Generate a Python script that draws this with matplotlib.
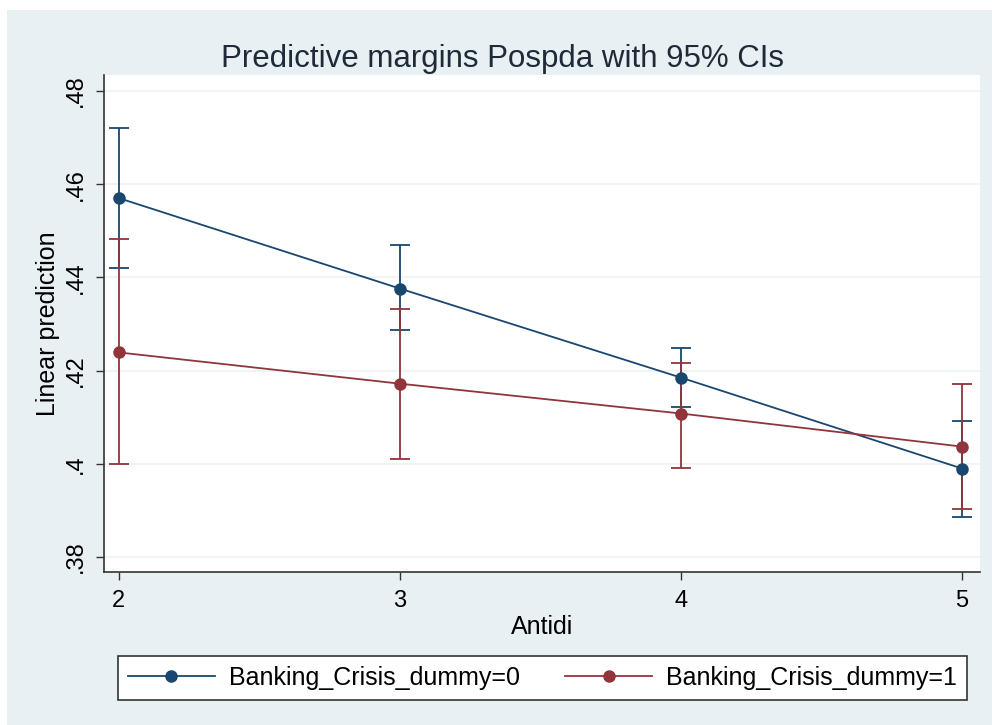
import matplotlib
matplotlib.use("Agg")
import matplotlib.pyplot as plt

plt.rcParams['font.family'] = ['Liberation Sans', 'DejaVu Sans']

antidi = [2, 3, 4, 5]

# Banking_Crisis_dummy=0
margin0 = [0.4570, 0.4376, 0.4185, 0.3990]
lower0 = [0.4420, 0.4288, 0.4121, 0.3886]
upper0 = [0.4721, 0.4469, 0.4249, 0.4093]

# Banking_Crisis_dummy=1
margin1 = [0.4239, 0.4172, 0.4108, 0.4037]
lower1 = [0.4000, 0.4011, 0.3991, 0.3903]
upper1 = [0.4482, 0.4333, 0.4217, 0.4172]

yticks = [0.38, 0.40, 0.42, 0.44, 0.46, 0.48]
ytick_labels = [".38", ".4", ".42", ".44", ".46", ".48"]

bg = '#e9f0f3'
blue = '#1a476f'
red = '#90353b'

fig = plt.figure(figsize=(9.92, 7.25), dpi=100)
fig.patch.set_facecolor('white')
# stata-like grey panel
fig.add_artist(plt.Rectangle((7 / 992, 0), 1, 1 - 10 / 725, transform=fig.transFigure,
                             facecolor=bg, edgecolor='none', zorder=-10))

ax = fig.add_axes([0.1048, 0.2110, 0.8831, 0.6855])
ax.set_facecolor('white')

for m, lo, hi, c, lab in [(margin0, lower0, upper0, blue, 'Banking_Crisis_dummy=0'),
                          (margin1, lower1, upper1, red, 'Banking_Crisis_dummy=1')]:
    err = [[a - b for a, b in zip(m, lo)], [b - a for a, b in zip(m, hi)]]
    ax.errorbar(antidi, m, yerr=err, fmt='none', ecolor=c, elinewidth=1.3,
                capsize=7, capthick=1.3, zorder=2)
    ax.plot(antidi, m, color=c, lw=1.3, marker='o', markersize=8,
            markeredgecolor=c, label=lab, zorder=3)

ax.set_xlim(1.947, 5.064)
ax.set_ylim(0.3768, 0.4834)
ax.set_xticks(antidi)
ax.set_xticklabels([str(v) for v in antidi], fontsize=17)
ax.set_yticks(yticks)
ax.set_yticklabels(ytick_labels, fontsize=17, rotation=90, va='center')
ax.grid(axis='y', color='#eef2f4', lw=1.2)
ax.set_axisbelow(True)

for s in ['top', 'right']:
    ax.spines[s].set_visible(False)
for s in ['left', 'bottom']:
    ax.spines[s].set_color('#333333')
    ax.spines[s].set_linewidth(1.2)
ax.tick_params(length=6, width=1, color='#333333')
ax.tick_params(axis='x', pad=7)
ax.tick_params(axis='y', pad=6)

ax.set_xlabel('Antidi', fontsize=18, labelpad=2)
ax.set_ylabel('Linear prediction', fontsize=18, labelpad=4)
fig.text(0.5063, 0.919, 'Predictive margins Pospda with 95% CIs', fontsize=22.5,
         ha='center', va='center', color='#1e2a38')

leg = fig.legend(loc='center', bbox_to_anchor=(0.5466, 0.0655), ncol=2, fontsize=18,
                 frameon=True, fancybox=False, framealpha=1, handlelength=3.5,
                 handletextpad=0.55, columnspacing=1.8, borderpad=0.4, borderaxespad=0)
leg.get_frame().set_edgecolor('#333333')
leg.get_frame().set_linewidth(1.2)

fig.savefig('out.png', dpi=100, facecolor=fig.get_facecolor())
